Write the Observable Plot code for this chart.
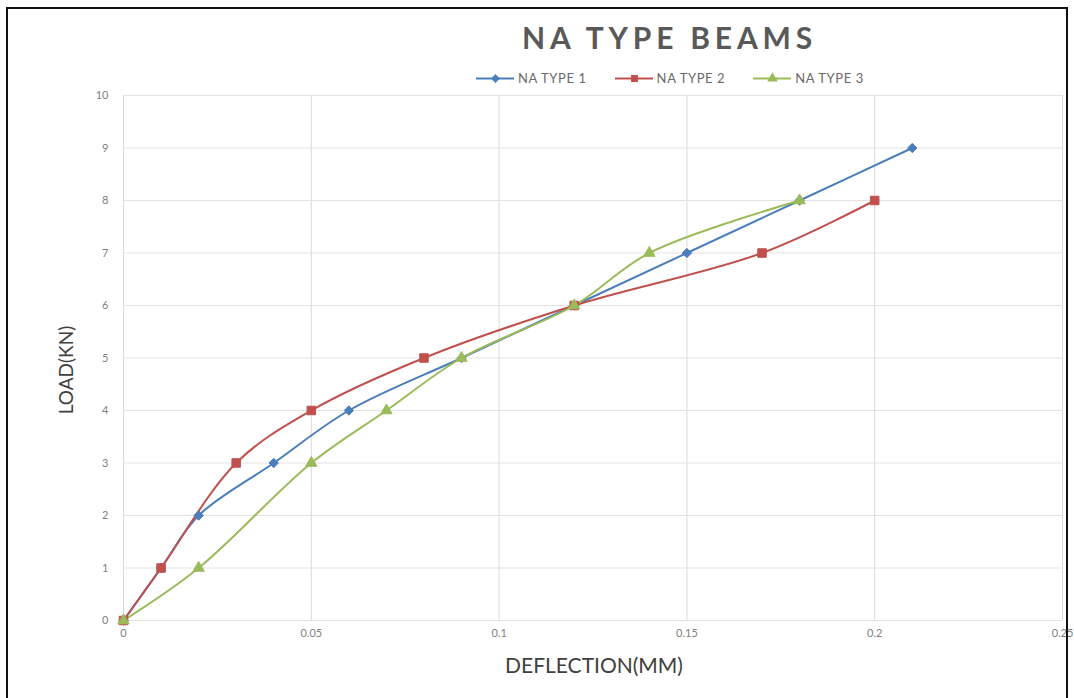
<!DOCTYPE html>
<html>
<head>
<meta charset="utf-8">
<script src="https://cdn.jsdelivr.net/npm/d3@7"></script>
<script src="https://cdn.jsdelivr.net/npm/@observablehq/plot@0.6"></script>
<style>
  html, body { margin: 0; padding: 0; background: #fff; }
  #wrap { position: relative; width: 1074px; height: 698px; overflow: hidden; font-family: Lato, "Open Sans", sans-serif; }
  #frame { position: absolute; left: 6px; top: 7px; width: 1062px; height: 700px; border: 2px solid #111; box-sizing: border-box; pointer-events: none; }
  #title { position: absolute; left: 522px; top: 19px; font-size: 30px; font-weight: bold; color: #595959; letter-spacing: 4.8px; white-space: nowrap; }
  #legend { position: absolute; top: 70px; left: 476px; display: flex; gap: 0; font-size: 13px; color: #6a6a6a; letter-spacing: 0.6px; }
  .item { display: flex; align-items: center; margin-right: 28px; }
  .item svg { margin-right: 4px; }
  #ylab { position: absolute; left: 65px; top: 370px; transform: translate(-50%, -50%) rotate(-90deg); font-size: 19px; color: #404040; white-space: nowrap; }
  #xlab { position: absolute; left: 594px; top: 664px; transform: translate(-50%, -50%); font-size: 21px; color: #404040; white-space: nowrap; }
  #chart { position: absolute; left: 0; top: 0; }
</style>
</head>
<body>
<div id="wrap">
  <div id="chart"></div>
  <div id="title">NA TYPE BEAMS</div>
  <div id="legend"></div>
  <div id="ylab">LOAD(KN)</div>
  <div id="xlab">DEFLECTION(MM)</div>
  <div id="frame"></div>
</div>
<script>
const seriesNames = ["NA TYPE 1", "NA TYPE 2", "NA TYPE 3"];
const seriesColors = ["#4a7ebb", "#c0504d", "#9bbb59"];
const seriesSymbols = ["diamond2", "square", "triangle"];

const type1X = [0, 0.01, 0.02, 0.04, 0.06, 0.09, 0.12, 0.15, 0.18, 0.21];
const type1Y = [0, 1, 2, 3, 4, 5, 6, 7, 8, 9];
const type2X = [0, 0.01, 0.03, 0.05, 0.08, 0.12, 0.17, 0.20];
const type2Y = [0, 1, 3, 4, 5, 6, 7, 8];
const type3X = [0, 0.02, 0.05, 0.07, 0.09, 0.12, 0.14, 0.18];
const type3Y = [0, 1, 3, 4, 5, 6, 7, 8];

const xTicks = [0, 0.05, 0.1, 0.15, 0.2, 0.25];
const yTicks = [0, 1, 2, 3, 4, 5, 6, 7, 8, 9, 10];

const toRows = (xs, ys, s) => xs.map((x, i) => ({x, y: ys[i], s}));
const data = [
  ...toRows(type1X, type1Y, seriesNames[0]),
  ...toRows(type2X, type2Y, seriesNames[1]),
  ...toRows(type3X, type3Y, seriesNames[2])
];

const marks = [
  Plot.gridX(xTicks, {stroke: "#d9d9d9", strokeOpacity: 1, strokeWidth: 1}),
  Plot.gridY(yTicks, {stroke: "#e3e3e3", strokeOpacity: 1, strokeWidth: 1}),
  Plot.axisX(xTicks, {tickSize: 0, tickPadding: 9, fontSize: 11, fill: "#7f7f7f", label: null, tickFormat: d => String(d)}),
  Plot.axisY(yTicks, {tickSize: 0, tickPadding: 15, fontSize: 11, fill: "#7f7f7f", label: null, tickFormat: d => String(d)})
];
seriesNames.forEach((name, i) => {
  const rows = data.filter(d => d.s === name);
  marks.push(Plot.line(rows, {x: "x", y: "y", stroke: seriesColors[i], strokeWidth: 2, curve: "catmull-rom"}));
});
const dotR = [4.2, 4.8, 4.2];
seriesNames.forEach((name, i) => {
  const rows = data.filter(d => d.s === name);
  marks.push(Plot.dot(rows, {x: "x", y: "y", fill: seriesColors[i], stroke: seriesColors[i], strokeWidth: 1, symbol: seriesSymbols[i], r: dotR[i]}));
});

const chart = Plot.plot({
  width: 1074,
  height: 698,
  marginLeft: 123,
  marginRight: 12,
  marginTop: 95,
  marginBottom: 78,
  x: {domain: [0, 0.25]},
  y: {domain: [0, 10]},
  style: {fontFamily: "Lato, 'Open Sans', sans-serif", background: "transparent"},
  marks
});
document.getElementById("chart").appendChild(chart);

// Legend
const legend = document.getElementById("legend");
seriesNames.forEach((name, i) => {
  const item = document.createElement("div");
  item.className = "item";
  const sw = Plot.plot({
    width: 38, height: 16, margin: 0,
    x: {domain: [0, 1], axis: null}, y: {domain: [0, 1], axis: null},
    marks: [
      Plot.ruleY([0.5], {stroke: seriesColors[i], strokeWidth: 2}),
      Plot.dot([{x: 0.5, y: 0.5}], {x: "x", y: "y", fill: seriesColors[i], stroke: seriesColors[i], symbol: seriesSymbols[i], r: 3})
    ]
  });
  item.appendChild(sw);
  const t = document.createElement("span");
  t.textContent = name;
  item.appendChild(t);
  legend.appendChild(item);
});
</script>
</body>
</html>
